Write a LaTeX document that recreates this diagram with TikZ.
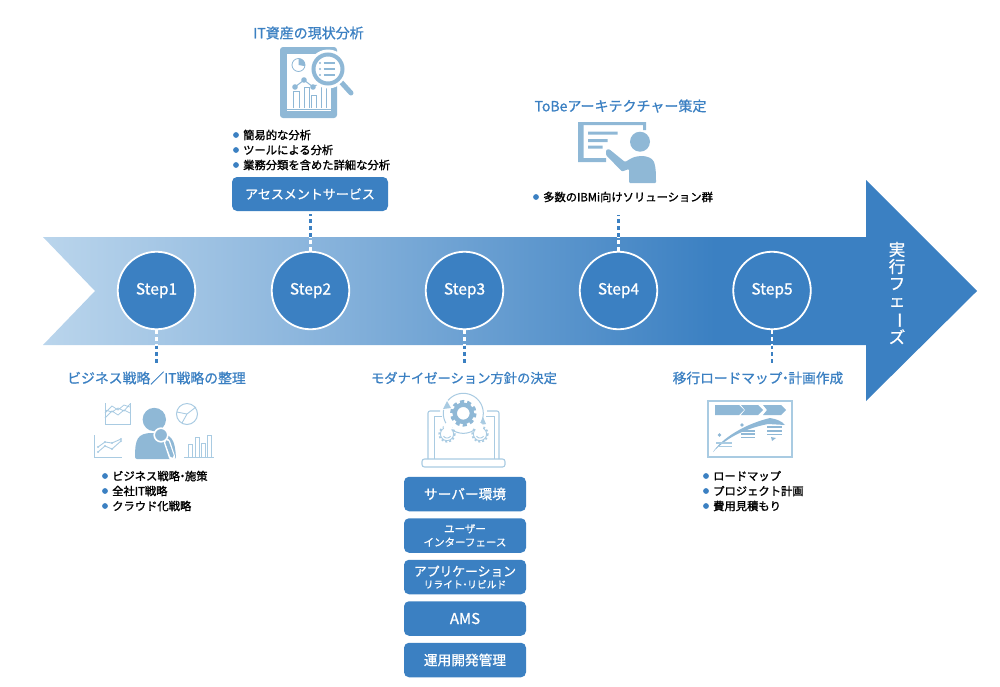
\documentclass[tikz,border=0pt]{standalone}
\usepackage{fontspec}
\setmainfont{Noto Sans CJK JP}
\newfontfamily\med[FakeBold=0.9]{Noto Sans CJK JP}
\newfontfamily\bld[FakeBold=1.4]{Noto Sans CJK JP}
\newcommand{\nd}{\kern-.28em・\kern-.28em}
\definecolor{mainb}{HTML}{3B80C2}
\definecolor{iconb}{HTML}{8FB8D6}
\definecolor{iconl}{HTML}{A9CBE2}
\definecolor{bandl}{HTML}{BAD5EC}
\definecolor{bandm}{HTML}{8FB8DE}
\pgfdeclarehorizontalshading{arrowgrad}{100bp}{
 color(0bp)=(bandl);color(25bp)=(bandl);color(38bp)=(bandm);color(61bp)=(mainb);color(75bp)=(mainb);color(100bp)=(mainb)}
\tikzset{
 stepc/.style={circle,draw=white,line width=1.8pt,fill=mainb,text=white,minimum size=77.5pt,inner sep=0pt,font=\med\fontsize{15.5}{15.5}\selectfont},
 head/.style={text=mainb,inner sep=0pt,font=\med\fontsize{13.3}{15}\selectfont},
 btext/.style={text=black,inner sep=0pt,anchor=west,font=\bld\fontsize{11.3}{13}\selectfont},
 dot/.style={circle,fill=mainb,minimum size=5.8pt,inner sep=0pt},
 bbox/.style={rectangle,rounded corners=5pt,fill=mainb,text=white,align=center,inner sep=0pt},
 conn/.style={mainb,line width=2.9pt,dash pattern=on 3.6pt off 3.2pt},
 connw/.style={white,line width=2.9pt,dash pattern=on 3.6pt off 3.2pt},
 iline/.style={draw=iconb,line width=1pt,fill=none},
}
\newcommand{\bitem}[3]{\node[dot] (d#1-#2) at (#1-7,#2) {}; \node[btext] (t#1-#2) at (#1,#2) {#3};}
\newcommand{\iarc}[6]{\draw[#1] plot[smooth,domain=#5:#6,samples=24] ({#2+#4*cos(\x)},{#3+#4*sin(\x)});}
\begin{document}
\begin{tikzpicture}[x=1pt,y=-1pt]
\useasboundingbox (0,0) rectangle (1000,686);
% band arrow
\shade[shading=arrowgrad] (43,237) -- (866,237) -- (866,180) -- (977,291) -- (866,401) -- (866,345) -- (43,345) -- (95,291) -- cycle;
% steps
\foreach \n/\x in {1/156.5,2/310.5,3/464.5,4/618.5,5/772}{
 \node[stepc] (s\n) at (\x,290.5) {Step\n};
}
\foreach \n/\x in {1/156.5,3/464.5,5/772}{
 \coordinate (w\n) at (\x,345.5);
 \coordinate (e\n) at (\x,364);
 \draw[connw] (s\n.south) -- (w\n);
 \draw[conn] (w\n) -- (e\n);
}
\foreach \n/\x/\y in {2/310.5/214,4/618.5/215}{
 \coordinate (w\n) at (\x,236.5);
 \coordinate (e\n) at (\x,\y);
 \draw[connw] (s\n.north) -- (w\n);
 \draw[conn] (w\n) -- (e\n);
}
\node[text=white,inner sep=0pt,align=center,font=\med\fontsize{16.5}{17}\selectfont] (exec) at (897,293) {実\\行\\フ\\ェ\\\rotatebox[origin=c]{-90}{ー}\\ズ};
% headings
\node[head,font=\med\fontsize{14}{15}\selectfont] (h2) at (308.5,33) {IT資産の現状分析};
\node[head,font=\med\fontsize{14}{15}\selectfont] (h4) at (620.5,106) {ToBeアーキテクチャー策定};
\node[head,font=\med\fontsize{13.85}{15}\selectfont] (h1) at (156.5,378) {ビジネス戦略／IT戦略の整理};
\node[head] (h3) at (464,378) {モダナイゼーション方針の決定};
\node[head,font=\med\fontsize{13.7}{15}\selectfont] (h5) at (758,378) {移行ロードマップ\nd 計画作成};
% bullets
\bitem{243}{135}{簡易的な分析}
\bitem{243}{150}{ツールによる分析}
\bitem{243}{165}{業務分類を含めた詳細な分析}
\bitem{543}{197}{多数のIBMi向けソリューション群}
\bitem{112}{476}{ビジネス戦略\nd 施策}
\bitem{112}{491}{全社IT戦略}
\bitem{112}{506}{クラウド化戦略}
\bitem{713}{476}{ロードマップ}
\bitem{713}{491}{プロジェクト計画}
\bitem{713}{506}{費用見積もり}
% boxes
\node[bbox,minimum width=156pt,minimum height=34pt,font=\med\fontsize{13}{15}\selectfont] (b0) at (310,194) {アセスメントサービス};
\tikzset{vb/.style={bbox,minimum width=122pt,minimum height=34.5pt}}
\node[vb,font=\med\fontsize{13.7}{15}\selectfont] (b1) at (465,494) {サーバー環境};
\node[vb,font=\med\fontsize{10.5}{13.5}\selectfont] (b2) at (465,535.5) {ユーザー\\インターフェース};
\node[vb,font=\med\fontsize{12.8}{13}\selectfont] (b3) at (465,577) {アプリケーション\\[-1pt]{\fontsize{9.8}{12}\selectfont リライト\nd リビルド}};
\node[vb,font=\med\fontsize{15}{15}\selectfont] (b4) at (465,618.5) {AMS};
\node[vb,font=\med\fontsize{13.7}{15}\selectfont] (b5) at (465,660) {運用開発管理};
% ---- icon: IT assets
\fill[iconb,rounded corners=3pt] (280,47) rectangle (337,118);
\fill[white] (287,54) rectangle (331,111);
\draw[iconb,line width=.8pt] (287,109) -- (331,109);
\draw[iline,line width=.8pt] (298.5,65) circle (6.5);
\fill[iconb] (298.5,65) -- plot[domain=-90:10,samples=12] ({298.5+6.5*cos(\x)},{65+6.5*sin(\x)}) -- cycle;
\fill[iconb] (295,87) circle (2.8) (304,80) circle (2.8) (313,87) circle (2.8);
\draw[iconb,line width=1pt] (295,87) -- (304,80) -- (313,87) -- (325,80);
\foreach \a/\b/\c in {293/299/91,304/309/87,311/316/95,321/326/84}{
 \draw[iconb,line width=.8pt] (\a,108) -- (\a,\c) -- (\b,\c) -- (\b,108);
}
\fill[white] (328,69) circle (19.5);
\draw[iconb,line width=5pt,line cap=round] (341,82) -- (351,93);
\fill[white] (328,69) circle (19);
\draw[iconb,line width=4pt] (328,69) circle (14.5);
\foreach \y in {63,69,75}{
 \fill[iconb] (320,\y) circle (1.1);
 \draw[iconb,line width=1.2pt] (323.5,\y) -- (335,\y);
}
% ---- icon: ToBe
\fill[iconb] (578,122) rectangle (646,125) (643,122) rectangle (646,130);
\fill[iconb] (578,122) rectangle (583.5,162) (578,158) rectangle (606,162);
\fill[iconb] (588,131.5) rectangle (617.5,134.5) (588,139) rectangle (607.5,142) (588,145.5) rectangle (602.5,148.5);
\fill[iconb] (640,141.7) circle (10);
\fill[iconb,rounded corners=1pt] (606,150) -- (609,149) -- (625,162) -- (631,158.5)
  .. controls (638,155) and (650,155) .. (654,162) .. controls (656,168) and (656,175) .. (656,183) -- (629,183) -- (629,169) -- (622,171.5) -- (606,155) -- cycle;
% ---- icon: person and charts
\fill[iconb] (154.3,419.5) circle (11.7);
\fill[iconb,rounded corners=2pt] (135,459) .. controls (135,440) and (137,433) .. (154,433) .. controls (172,433) and (175,440) .. (176,459) -- cycle;
\draw[white,line width=1.6pt,fill=iconb] (161,435) circle (6.8);
\draw[white,line width=6.4pt,line cap=round] (167,442) -- (172,457);
\draw[iconb,line width=3.6pt,line cap=round] (167,442) -- (172,456);
\draw[iconl,line width=.9pt] (105,403) -- (105,424) -- (130,424) -- (130,403);
\draw[iconl,line width=.8pt] (105,413) -- (112,406) -- (118,410) -- (124,405) -- (130,407) (105,418) -- (112,411) -- (118,415) -- (124,410) -- (130,413) (105,410) -- (112,412) -- (118,408) -- (124,411) -- (130,404);
\draw[iconl,line width=1pt] (187,414) circle (10.5);
\draw[iconl,line width=.9pt] (177,412) -- (187,414) -- (196,407) (187,414) -- (182,423);
\draw[iconl,line width=1pt] (94,435) -- (94,457) -- (122,457);
\draw[iconl,line width=.9pt] (98,452) -- (105,446) -- (112,449) -- (121,441);
\draw[iconl,line width=.9pt] (98,447) -- (105,442) -- (112,443) -- (121,439);
\fill[iconl] (98,452) circle (1.2) (105,446) circle (1.2) (112,449) circle (1.2) (121,441) circle (1.2) (98,447) circle (1.2) (105,442) circle (1.2) (112,443) circle (1.2) (121,439) circle (1.2);
\draw[iconl,line width=.9pt] (184,457) -- (214,457);
\foreach \a/\c in {188/444,195/437,201/443,207/435}{
 \draw[iconl,line width=.9pt] (\a,457) -- (\a,\c) -- (\a+4,\c) -- (\a+4,457);
}
% ---- icon: laptop
\draw[iconl,line width=1.1pt,rounded corners=2pt] (440,411) -- (428,411) -- (428,459) (499,459) -- (499,411) -- (487,411);
\draw[iconl,line width=1pt] (434,459) -- (434,416.5) -- (442,416.5) (486,416.5) -- (494,416.5) -- (494,459);
\draw[iconl,line width=1.1pt,rounded corners=2.5pt] (422,459) rectangle (505,467);
\fill[white] (463.3,413.3) circle (21.5);
\iarc{iconl,line width=1pt}{463.3}{413.3}{20}{-140}{30}
\iarc{iconl,line width=1pt}{463.3}{413.3}{20}{50}{190}
\fill[iconl] (447,401) -- (443,409) -- (451,408) -- cycle;
\fill[iconl] (480,425) -- (483,417) -- (486,424) -- cycle;
\draw[iconb,line width=4pt,dash pattern=on 3.9pt off 3.2pt] (463.3,413.3) circle (11.3);
\draw[iconb,line width=4.4pt] (463.3,413.3) circle (8.6);
\foreach \cx in {447,480}{
 \draw[iconl,line width=1.6pt,dash pattern=on 2pt off 2pt] (\cx,434) circle (7.8);
 \draw[iconl,line width=.9pt] (\cx,434) circle (6.6);
}
\fill[white] (448,427) circle (4.5) (479,427) circle (4.5) (447,433) circle (3.6) (480,433) circle (3.6);
\iarc{iconl,line width=.9pt}{447}{434}{4}{30}{150}
\iarc{iconl,line width=.9pt}{480}{434}{4}{30}{150}
% ---- icon: roadmap
\draw[iconl,line width=2pt] (708,400.5) rectangle (792,456.5);
\fill[iconb] (715,405) -- (739,405) -- (744,410) -- (739,415) -- (715,415) -- cycle;
\fill[iconb] (741,405) -- (758,405) -- (763,410) -- (758,415) -- (741,415) -- (745,410) -- cycle;
\fill[iconb] (763,405) -- (781,405) -- (786,410) -- (781,415) -- (763,415) -- (767,410) -- cycle;
\fill[iconb] (713,452) .. controls (722,438) and (745,424) .. (770,418) .. controls (776,419) and (782,421) .. (785,425) -- (768,424) .. controls (748,428) and (728,436) .. (713,452) -- cycle;
\fill[iconb] (719.5,435) circle (1.8) (742,425) circle (1.8) (769,421.5) circle (1.8);
\draw[iconl,line width=1.2pt] (716,443) -- (732,443) (717,446.5) -- (732,446.5);
\foreach \y in {431,434,437.5}{
 \draw[iconb,line width=1.2pt] (741,\y) -- (755,\y);
}
\foreach \y in {427,431,434.5}{
 \draw[iconb,line width=1.2pt] (767,\y) -- (782,\y);
}
\fill[iconb] (771,437) -- (776,438) -- (772,441) -- cycle;
\end{tikzpicture}
\end{document}
